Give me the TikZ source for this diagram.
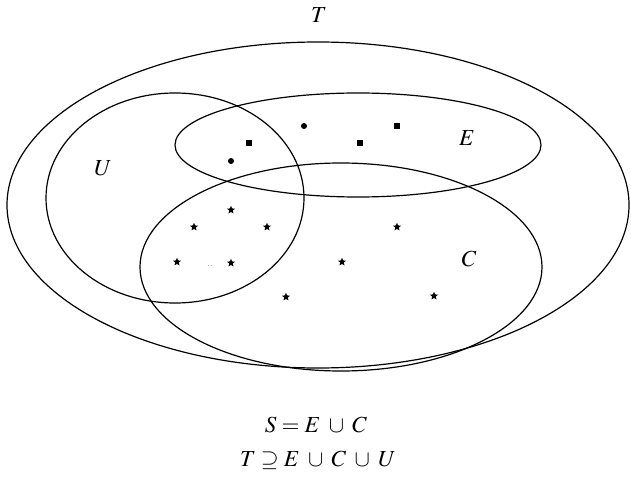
\documentclass[tikz,border=0pt]{standalone}
\usepackage{amsmath}
\usepackage{amssymb}
\usepackage{mathptmx}
\usepackage{tikz}
\usetikzlibrary{shapes.geometric}

\begin{document}
\begin{tikzpicture}[x=1pt, y=-1pt,
      set/.style={draw=black, line width=1.2pt},
      lbl/.style={font=\fontsize{23}{27}\selectfont},
      sqdot/.style={fill=black, rectangle, inner sep=0pt, minimum size=5.5pt},
      rnddot/.style={fill=black, circle, inner sep=0pt, minimum size=6pt},
      stardot/.style={fill=black, star, star points=5, star point ratio=2.2,
                      inner sep=0pt, minimum size=8.5pt}]

    \useasboundingbox (0,0) rectangle (631,481);

    % the four sets
    \draw[set] (318,205) ellipse [x radius=311, y radius=163];
    \draw[set] (175,198) ellipse [x radius=129, y radius=105];
    \draw[set] (358,145) ellipse [x radius=183, y radius=52];
    \draw[set] (341,267) ellipse [x radius=201, y radius=104];

    \node[lbl] (labT) at (319,15)  {$T$};
    \node[lbl] (labU) at (103,168) {$U$};
    \node[lbl] (labE) at (467,138) {$E$};
    \node[lbl] (labC) at (469,259) {$C$};

    % elements of E
    \node[rnddot] (e1) at (304,126) {};
    \node[sqdot]  (e2) at (397,126) {};
    \node[sqdot]  (e3) at (249,143) {};
    \node[sqdot]  (e4) at (360,143) {};
    \node[rnddot] (e5) at (231,161) {};

    % elements of C
    \node[stardot] (c1)  at (231,210) {};
    \node[stardot] (c2)  at (194,227) {};
    \node[stardot] (c3)  at (267,227) {};
    \node[stardot] (c4)  at (397,227) {};
    \node[stardot] (c5)  at (177,262) {};
    \node[stardot] (c6)  at (231,263) {};
    \node[stardot] (c7)  at (342,262) {};
    \node[stardot] (c8)  at (286,297) {};
    \node[stardot] (c9)  at (434,296) {};
    \node[font=\scriptsize, inner sep=0pt] (gap) at (210,266) {..};

    \node[lbl] (eqS) at (316,425) {$S = E \;\cup\; C$};
    \node[lbl] (eqT) at (318,460) {$T \supseteq E \;\cup\; C \;\cup\; U$};
  \end{tikzpicture}
\end{document}
